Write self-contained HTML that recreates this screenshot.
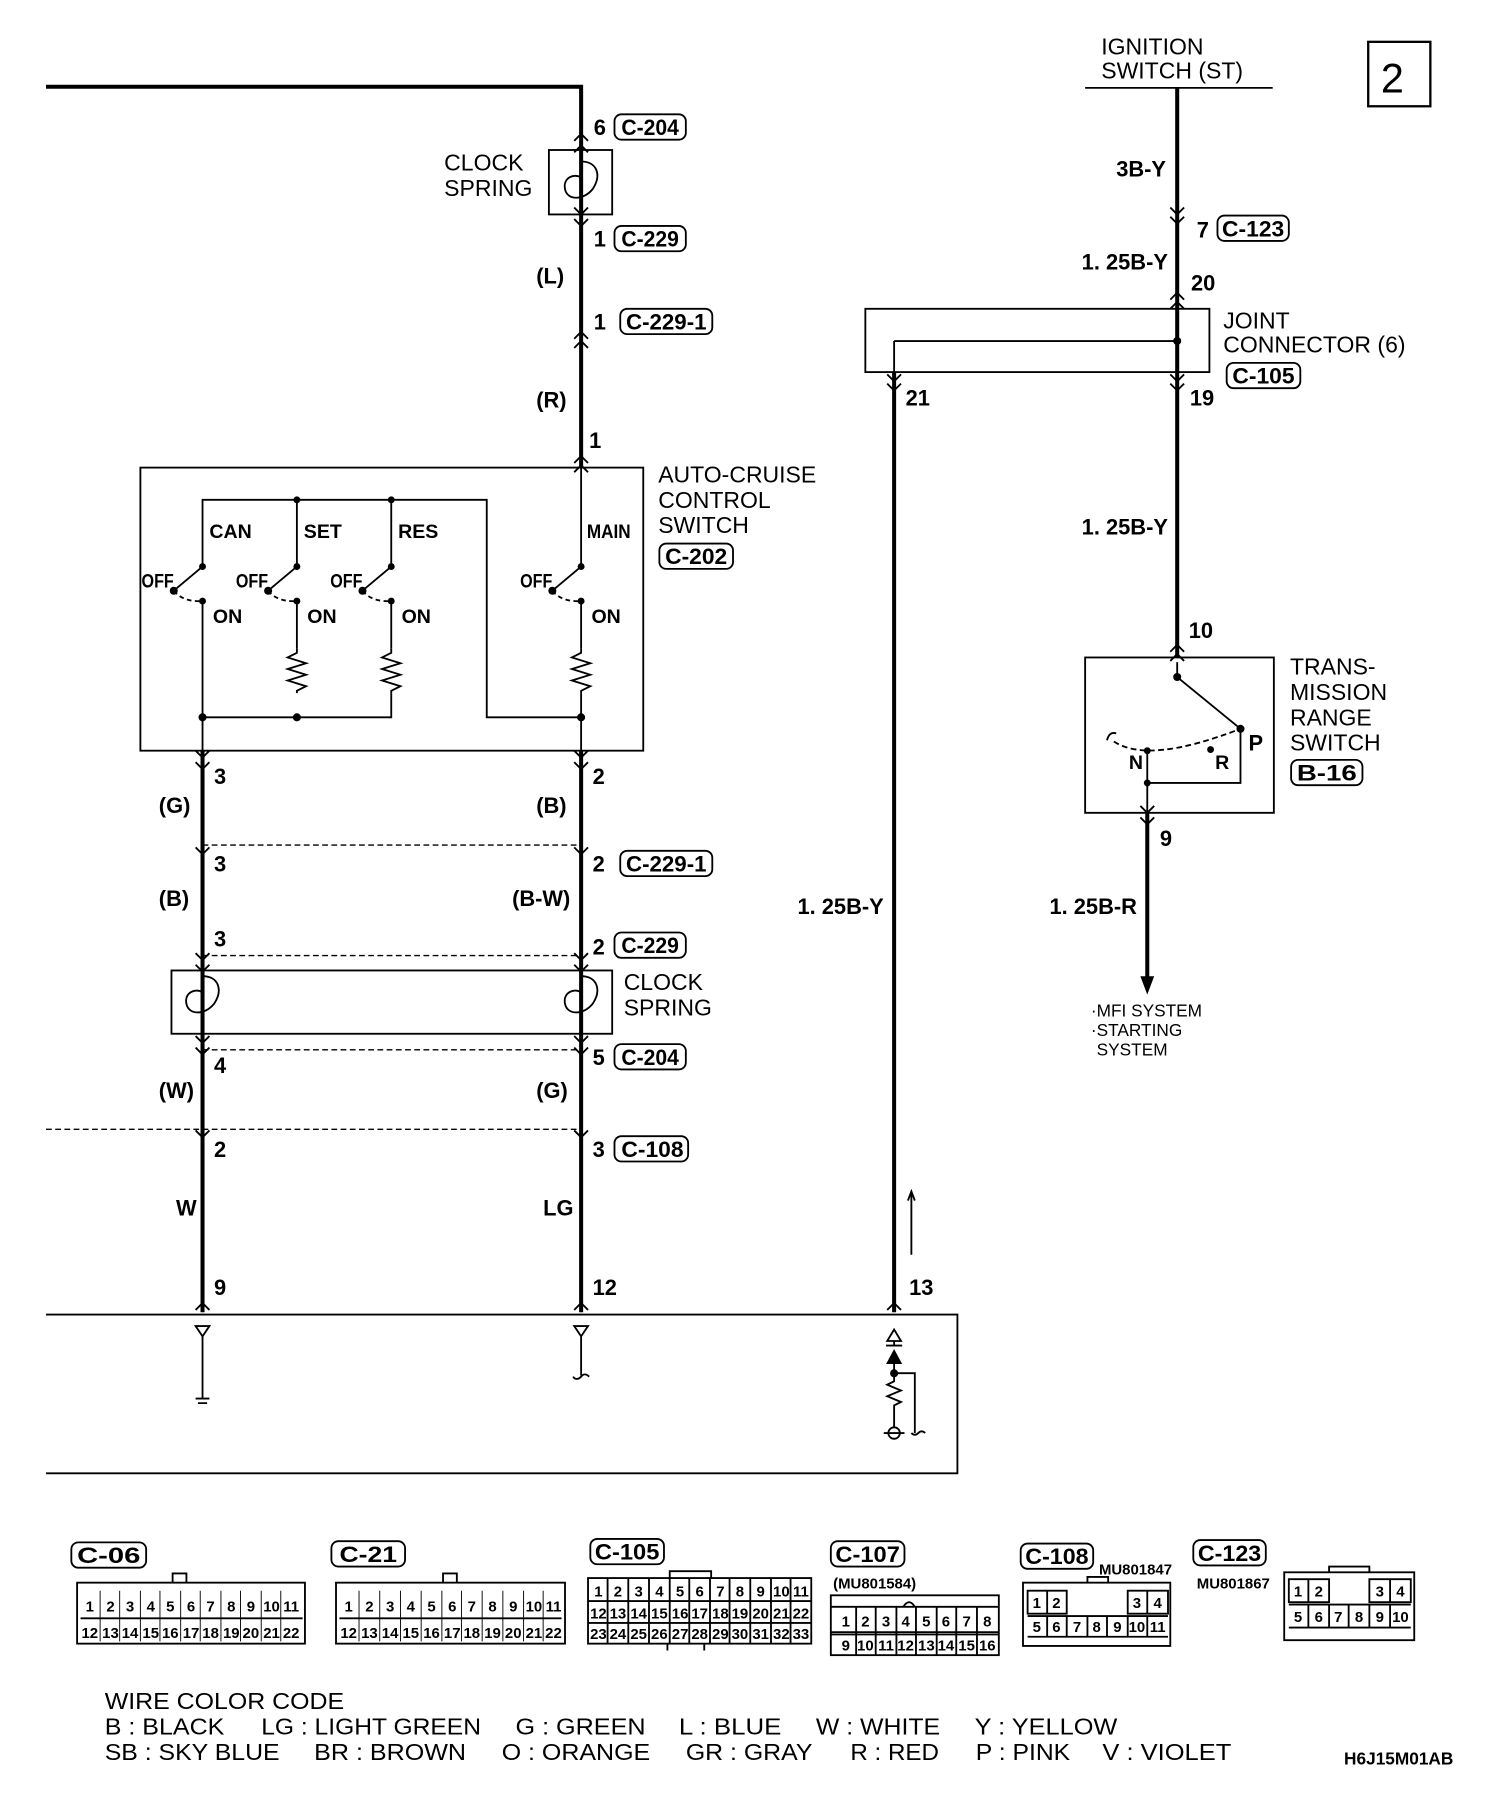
<!DOCTYPE html>
<html><head><meta charset="utf-8"><style>
html,body{margin:0;padding:0;background:#fff}
svg{display:block}
text{font-family:"Liberation Sans",sans-serif;fill:#000}
.b{font-weight:bold}
.n{font-size:19px}
.t{font-size:20px}
.s{font-size:13px;font-weight:bold}
</style></head><body>
<svg width="1504" height="1804" viewBox="0 0 1307 1567" xmlns="http://www.w3.org/2000/svg">
<g fill="none" stroke="#000" stroke-width="1.6">
<path d="M40 75H505V406" stroke-width="3.5"/>
<path d="M505 652V1140" stroke-width="3.5"/>
<path d="M176 652V1140" stroke-width="3.5"/>
<path d="M1023 76V571" stroke-width="3.5"/>
<path d="M777 323V1140" stroke-width="3.5"/>
<path d="M997 706V850" stroke-width="3.5"/>
<path d="M943 76H1106"/>
<path d="M176 623V652M505 623V652M997 680V706M1023 268V323M777 296V323"/>
<path d="M499 122l6-6 6 6M499 132l6-6 6 6"/>
<path d="M499 180l6 6 6-6M499 190l6 6 6-6"/>
<path d="M499 294l6-6 6 6M499 302l6-6 6 6"/>
<path d="M499 402l6-6 6 6M499 410l6-6 6 6"/>
<path d="M170 652l6 6 6-6M170 662l6 6 6-6M499 652l6 6 6-6M499 662l6 6 6-6"/>
<path d="M170 736l6 6 6-6M499 736l6 6 6-6"/>
<path d="M170 828l6 6 6-6M170 838l6 6 6-6M499 828l6 6 6-6M499 838l6 6 6-6"/>
<path d="M170 900l6 6 6-6M170 910l6 6 6-6M499 900l6 6 6-6M499 910l6 6 6-6"/>
<path d="M170 982l6 6 6-6M499 982l6 6 6-6"/>
<path d="M170 1138l6-6 6 6M499 1138l6-6 6 6M771 1138l6-6 6 6"/>
<path d="M1017 180l6 6 6-6M1017 188l6 6 6-6"/>
<path d="M1017 260l6-6 6 6M1017 268l6-6 6 6"/>
<path d="M771 325l6 6 6-6M771 333l6 6 6-6M1017 325l6 6 6-6M1017 333l6 6 6-6"/>
<path d="M1017 566l6-6 6 6M1017 574l6-6 6 6"/>
<path d="M991 700l6 6 6-6M991 710l6 6 6-6"/>
<rect x="477" y="130" width="55" height="56"/>
<path d="M505 140c14 0 18 12 10 24-8 10-22 10-24 0-2-10 8-14 14-10v20"/>
<rect x="122" y="406" width="437" height="246"/>
<path d="M505 406V492M176 492V434H423V623H505M258 434V492M340 434V492"/>
<path d="M176 522V623H340V602M258 522V563M340 522V563M505 522V563M505 602V623"/>
<path d="M258 563v4l-8 4 16 5-16 5 16 5-16 5 16 5-8 4v2M340 563v4l-8 4 16 5-16 5 16 5-16 5 16 5-8 4v2M505 563v4l-8 4 16 5-16 5 16 5-16 5 16 5-8 4v2"/>
<path d="M151 513L176 492M233 513L258 492M315 513L340 492M480 513L505 492"/>
<path d="M151 513q8 10 25 9M233 513q8 10 25 9M315 513q8 10 25 9M480 513q8 10 25 9" stroke-dasharray="4 3"/>
<path d="M176 734H505M176 830H505M176 912H505M40 981H505" stroke-dasharray="5 3" stroke-width="1.2"/>
<rect x="149" y="843" width="383" height="55"/>
<path d="M176 848c14 0 18 12 10 24-8 10-22 10-24 0-2-10 8-14 14-10v20M505 848c14 0 18 12 10 24-8 10-22 10-24 0-2-10 8-14 14-10v20"/>
<path d="M40 1142H832V1280H40"/>
<path d="M170 1152h12l-6 9zM499 1152h12l-6 9z"/>
<path d="M176 1161V1215M170 1215h12M172 1219h8"/>
<path d="M505 1161V1195M498 1196q3 4 7 0q3-4 7 0"/>
<path d="M777 1155l-6 10h12zM770 1169h14M777 1165V1169"/>
<path d="M777 1185V1200l-6 3 12 5-12 5 12 5-6 3V1240M777 1193h18V1245M792 1245q3 3 6 0q3-3 6 0M768 1245h18"/>
<circle cx="777" cy="1245" r="5"/>
<path d="M792 1090V1035M789 1043l3-8 3 8"/>
<rect x="752" y="268" width="299" height="55"/>
<path d="M777 296H1023"/>
<rect x="943" y="571" width="164" height="135"/>
<path d="M1023 575V588L1078 633M997 652V680H1078V633"/>
<path d="M968 644q30 20 110-11" stroke-dasharray="5 3"/>
<path d="M962 643q2-8 8-6"/>
<rect x="1189" y="36" width="54" height="56" stroke-width="2"/>
<rect x="534" y="99" width="62" height="22" rx="6"/>
<rect x="534" y="196" width="62" height="22" rx="6"/>
<rect x="539" y="268" width="80" height="22" rx="6"/>
<rect x="573" y="472" width="64" height="22" rx="6"/>
<rect x="539" y="739" width="80" height="22" rx="6"/>
<rect x="534" y="810" width="62" height="22" rx="6"/>
<rect x="534" y="907" width="62" height="22" rx="6"/>
<rect x="534" y="987" width="64" height="22" rx="6"/>
<rect x="1058" y="187" width="62" height="22" rx="6"/>
<rect x="1066" y="315" width="64" height="22" rx="6"/>
<rect x="1122" y="660" width="62" height="22" rx="6"/>
<rect x="62" y="1340" width="65" height="22" rx="6"/>
<rect x="288" y="1339" width="64" height="22" rx="6"/>
<rect x="513" y="1337" width="64" height="22" rx="6"/>
<rect x="722" y="1339" width="64" height="22" rx="6"/>
<rect x="887" y="1341" width="63" height="22" rx="6"/>
<rect x="1037" y="1338" width="63" height="22" rx="6"/>
<rect x="67" y="1375" width="198" height="53"/>
<path d="M70 1406H263M150 1375v-8h12v8"/>
<path d="M87 1382v44M104 1382v44M122 1382v44M139 1382v44M157 1382v44M174 1382v44M192 1382v44M209 1382v44M227 1382v44M244 1382v44" stroke-width="0.8"/>
<rect x="292" y="1375" width="199" height="53"/>
<path d="M295 1406H488M385 1375v-8h12v8"/>
<path d="M312 1382v44M330 1382v44M348 1382v44M366 1382v44M384 1382v44M401 1382v44M419 1382v44M437 1382v44M455 1382v44M472 1382v44" stroke-width="0.8"/>
<rect x="511" y="1371" width="194" height="57"/>
<path d="M511 1391H705M511 1410H705M582 1371v-6h36v6M580 1428v6M612 1428v6"/>
<path d="M528 1371v57M546 1371v57M564 1371v57M582 1371v57M599 1371v57M617 1371v57M634 1371v57M652 1371v57M670 1371v57M687 1371v57"/>
<rect x="722" y="1386" width="146" height="52"/>
<path d="M722 1396H868M722 1418H868M722 1420H868M785 1396q5-8 10 0"/>
<path d="M744 1396v42M761 1396v42M779 1396v42M796 1396v42M814 1396v42M831 1396v42M849 1396v42"/>
<rect x="889" y="1375" width="128" height="55"/>
<path d="M893 1382h34v20h-34zM910 1382v20M980 1382h35v20h-35zM997 1382v20M893 1404h122M893 1422h122M910 1404v18M927 1404v18M945 1404v18M962 1404v18M980 1404v18M997 1404v18M945 1375v-5h18v5"/>
<rect x="1116" y="1366" width="113" height="59"/>
<path d="M1120 1372h35v20h-35zM1137 1372v20M1190 1372h36v20h-36zM1208 1372v20M1120 1394h106M1120 1414h106M1137 1394v20M1155 1394v20M1172 1394v20M1190 1394v20M1208 1394v20M1155 1366v-5h35v5"/>
</g>
<g fill="#000">
<circle cx="258" cy="434" r="3"/><circle cx="340" cy="434" r="3"/>
<circle cx="176" cy="492" r="3"/><circle cx="258" cy="492" r="3"/><circle cx="340" cy="492" r="3"/><circle cx="505" cy="492" r="3"/>
<circle cx="151" cy="513" r="3.5"/><circle cx="233" cy="513" r="3.5"/><circle cx="315" cy="513" r="3.5"/><circle cx="480" cy="513" r="3.5"/>
<circle cx="176" cy="522" r="3"/><circle cx="258" cy="522" r="3"/><circle cx="340" cy="522" r="3"/><circle cx="505" cy="522" r="3"/>
<circle cx="176" cy="623" r="3.5"/><circle cx="258" cy="623" r="3.5"/><circle cx="505" cy="623" r="3.5"/>
<circle cx="1023" cy="296" r="3.5"/>
<circle cx="1023" cy="588" r="3.5"/><circle cx="1078" cy="633" r="3.5"/><circle cx="997" cy="652" r="3"/><circle cx="1052" cy="651" r="3"/><circle cx="997" cy="680" r="3"/>
<circle cx="777" cy="1193" r="3.5"/>
<path d="M991 848h12l-6 16z"/>
<path d="M770 1185h14l-7-13z"/>
</g>
<g class="b n">
<text x="516" y="117">6</text><text x="540" y="117" textLength="50" lengthAdjust="spacingAndGlyphs">C-204</text>
<text x="516" y="214">1</text><text x="540" y="214" textLength="50" lengthAdjust="spacingAndGlyphs">C-229</text>
<text x="466" y="246">(L)</text>
<text x="516" y="286">1</text><text x="544" y="286" textLength="70" lengthAdjust="spacingAndGlyphs">C-229-1</text>
<text x="466" y="354">(R)</text>
<text x="512" y="389">1</text>
<text x="578" y="490" textLength="54" lengthAdjust="spacingAndGlyphs">C-202</text>
<text x="182" y="467" font-size="17">CAN</text><text x="264" y="467" font-size="17">SET</text><text x="346" y="467" font-size="17">RES</text><text x="510" y="467" font-size="17" textLength="38" lengthAdjust="spacingAndGlyphs">MAIN</text>
<text x="123" y="510" font-size="17" textLength="28" lengthAdjust="spacingAndGlyphs">OFF</text><text x="205" y="510" font-size="17" textLength="28" lengthAdjust="spacingAndGlyphs">OFF</text><text x="287" y="510" font-size="17" textLength="28" lengthAdjust="spacingAndGlyphs">OFF</text><text x="452" y="510" font-size="17" textLength="28" lengthAdjust="spacingAndGlyphs">OFF</text>
<text x="185" y="541" font-size="17">ON</text><text x="267" y="541" font-size="17">ON</text><text x="349" y="541" font-size="17">ON</text><text x="514" y="541" font-size="17">ON</text>
<text x="186" y="681">3</text><text x="515" y="681">2</text>
<text x="138" y="706">(G)</text><text x="466" y="706">(B)</text>
<text x="186" y="757">3</text><text x="515" y="757">2</text><text x="544" y="757" textLength="70" lengthAdjust="spacingAndGlyphs">C-229-1</text>
<text x="138" y="787">(B)</text><text x="445" y="787">(B-W)</text>
<text x="186" y="822">3</text><text x="515" y="829">2</text><text x="540" y="828" textLength="50" lengthAdjust="spacingAndGlyphs">C-229</text>
<text x="186" y="932">4</text><text x="515" y="925">5</text><text x="540" y="925" textLength="50" lengthAdjust="spacingAndGlyphs">C-204</text>
<text x="138" y="954">(W)</text><text x="466" y="954">(G)</text>
<text x="186" y="1005">2</text><text x="515" y="1005">3</text><text x="540" y="1005" textLength="54" lengthAdjust="spacingAndGlyphs">C-108</text>
<text x="153" y="1056">W</text><text x="472" y="1056">LG</text>
<text x="186" y="1125">9</text><text x="515" y="1125">12</text><text x="790" y="1125">13</text>
<text x="970" y="153">3B-Y</text>
<text x="1040" y="206">7</text><text x="1062" y="205" textLength="54" lengthAdjust="spacingAndGlyphs">C-123</text>
<text x="940" y="234">1. 25B-Y</text>
<text x="1035" y="252">20</text>
<text x="1071" y="333" textLength="54" lengthAdjust="spacingAndGlyphs">C-105</text>
<text x="787" y="352">21</text><text x="1034" y="352">19</text>
<text x="940" y="464">1. 25B-Y</text>
<text x="1033" y="554">10</text>
<text x="1008" y="735">9</text>
<text x="912" y="794">1. 25B-R</text>
<text x="693" y="794">1. 25B-Y</text>
<text x="1085" y="652">P</text><text x="981" y="668" font-size="17">N</text><text x="1056" y="668" font-size="17">R</text>
<text x="1127" y="678" textLength="52" lengthAdjust="spacingAndGlyphs">B-16</text>
<text x="67" y="1358" textLength="55" lengthAdjust="spacingAndGlyphs">C-06</text>
<text x="295" y="1357" textLength="50" lengthAdjust="spacingAndGlyphs">C-21</text>
<text x="517" y="1355" textLength="56" lengthAdjust="spacingAndGlyphs">C-105</text>
<text x="726" y="1357" textLength="56" lengthAdjust="spacingAndGlyphs">C-107</text>
<text x="891" y="1359" textLength="55" lengthAdjust="spacingAndGlyphs">C-108</text>
<text x="1041" y="1356" textLength="55" lengthAdjust="spacingAndGlyphs">C-123</text>
</g>
<g class="t">
<text x="386" y="148">CLOCK</text><text x="386" y="170">SPRING</text>
<text x="572" y="419">AUTO-CRUISE</text><text x="572" y="441">CONTROL</text><text x="572" y="463">SWITCH</text>
<text x="542" y="860">CLOCK</text><text x="542" y="882">SPRING</text>
<text x="957" y="47">IGNITION</text><text x="957" y="68">SWITCH (ST)</text>
<text x="1063" y="285">JOINT</text><text x="1063" y="306">CONNECTOR (6)</text>
<text x="1121" y="586">TRANS-</text><text x="1121" y="608">MISSION</text><text x="1121" y="630">RANGE</text><text x="1121" y="652">SWITCH</text>
<text x="1200" y="80" font-size="36">2</text>
<text x="91" y="1485" textLength="208" lengthAdjust="spacingAndGlyphs">WIRE COLOR CODE</text>
<text x="91" y="1507" textLength="104" lengthAdjust="spacingAndGlyphs">B : BLACK</text><text x="227" y="1507" textLength="191" lengthAdjust="spacingAndGlyphs">LG : LIGHT GREEN</text><text x="448" y="1507" textLength="113" lengthAdjust="spacingAndGlyphs">G : GREEN</text><text x="590" y="1507" textLength="89" lengthAdjust="spacingAndGlyphs">L : BLUE</text><text x="709" y="1507" textLength="108" lengthAdjust="spacingAndGlyphs">W : WHITE</text><text x="847" y="1507" textLength="124" lengthAdjust="spacingAndGlyphs">Y : YELLOW</text>
<text x="91" y="1529" textLength="152" lengthAdjust="spacingAndGlyphs">SB : SKY BLUE</text><text x="273" y="1529" textLength="132" lengthAdjust="spacingAndGlyphs">BR : BROWN</text><text x="436" y="1529" textLength="129" lengthAdjust="spacingAndGlyphs">O : ORANGE</text><text x="596" y="1529" textLength="110" lengthAdjust="spacingAndGlyphs">GR : GRAY</text><text x="739" y="1529" textLength="77" lengthAdjust="spacingAndGlyphs">R : RED</text><text x="848" y="1529" textLength="82" lengthAdjust="spacingAndGlyphs">P : PINK</text><text x="958" y="1529" textLength="112" lengthAdjust="spacingAndGlyphs">V : VIOLET</text>
</g>
<g font-size="15">
<text x="948" y="883">·MFI SYSTEM</text><text x="948" y="900">·STARTING</text><text x="953" y="917">SYSTEM</text>
</g>
<text x="1168" y="1533" class="b" font-size="15">H6J15M01AB</text>
<text x="955" y="1368" class="s">MU801847</text>
<text x="1040" y="1380" class="s">MU801867</text>
<text x="724" y="1380" class="s">(MU801584)</text>
<g class="b" font-size="13" text-anchor="middle">
<text y="1400"><tspan x="78">1</tspan><tspan x="96">2</tspan><tspan x="113">3</tspan><tspan x="131">4</tspan><tspan x="148">5</tspan><tspan x="166">6</tspan><tspan x="183">7</tspan><tspan x="201">8</tspan><tspan x="218">9</tspan><tspan x="236">10</tspan><tspan x="253">11</tspan></text>
<text y="1423"><tspan x="78">12</tspan><tspan x="96">13</tspan><tspan x="113">14</tspan><tspan x="131">15</tspan><tspan x="148">16</tspan><tspan x="166">17</tspan><tspan x="183">18</tspan><tspan x="201">19</tspan><tspan x="218">20</tspan><tspan x="236">21</tspan><tspan x="253">22</tspan></text>
<text y="1400"><tspan x="303">1</tspan><tspan x="321">2</tspan><tspan x="339">3</tspan><tspan x="357">4</tspan><tspan x="375">5</tspan><tspan x="393">6</tspan><tspan x="410">7</tspan><tspan x="428">8</tspan><tspan x="446">9</tspan><tspan x="464">10</tspan><tspan x="481">11</tspan></text>
<text y="1423"><tspan x="303">12</tspan><tspan x="321">13</tspan><tspan x="339">14</tspan><tspan x="357">15</tspan><tspan x="375">16</tspan><tspan x="393">17</tspan><tspan x="410">18</tspan><tspan x="428">19</tspan><tspan x="446">20</tspan><tspan x="464">21</tspan><tspan x="481">22</tspan></text>
<text y="1387"><tspan x="520">1</tspan><tspan x="537">2</tspan><tspan x="555">3</tspan><tspan x="573">4</tspan><tspan x="591">5</tspan><tspan x="608">6</tspan><tspan x="626">7</tspan><tspan x="643">8</tspan><tspan x="661">9</tspan><tspan x="679">10</tspan><tspan x="696">11</tspan></text>
<text y="1406"><tspan x="520">12</tspan><tspan x="537">13</tspan><tspan x="555">14</tspan><tspan x="573">15</tspan><tspan x="591">16</tspan><tspan x="608">17</tspan><tspan x="626">18</tspan><tspan x="643">19</tspan><tspan x="661">20</tspan><tspan x="679">21</tspan><tspan x="696">22</tspan></text>
<text y="1424"><tspan x="520">23</tspan><tspan x="537">24</tspan><tspan x="555">25</tspan><tspan x="573">26</tspan><tspan x="591">27</tspan><tspan x="608">28</tspan><tspan x="626">29</tspan><tspan x="643">30</tspan><tspan x="661">31</tspan><tspan x="679">32</tspan><tspan x="696">33</tspan></text>
<text y="1413"><tspan x="735">1</tspan><tspan x="752">2</tspan><tspan x="770">3</tspan><tspan x="787">4</tspan><tspan x="805">5</tspan><tspan x="822">6</tspan><tspan x="840">7</tspan><tspan x="858">8</tspan></text>
<text y="1434"><tspan x="735">9</tspan><tspan x="752">10</tspan><tspan x="770">11</tspan><tspan x="787">12</tspan><tspan x="805">13</tspan><tspan x="822">14</tspan><tspan x="840">15</tspan><tspan x="858">16</tspan></text>
<text y="1397"><tspan x="901">1</tspan><tspan x="918">2</tspan><tspan x="988">3</tspan><tspan x="1006">4</tspan></text>
<text y="1418"><tspan x="901">5</tspan><tspan x="918">6</tspan><tspan x="936">7</tspan><tspan x="953">8</tspan><tspan x="971">9</tspan><tspan x="988">10</tspan><tspan x="1006">11</tspan></text>
<text y="1387"><tspan x="1128">1</tspan><tspan x="1146">2</tspan><tspan x="1199">3</tspan><tspan x="1217">4</tspan></text>
<text y="1409"><tspan x="1128">5</tspan><tspan x="1146">6</tspan><tspan x="1163">7</tspan><tspan x="1181">8</tspan><tspan x="1199">9</tspan><tspan x="1217">10</tspan></text>
</g>
</svg>
</body></html>
